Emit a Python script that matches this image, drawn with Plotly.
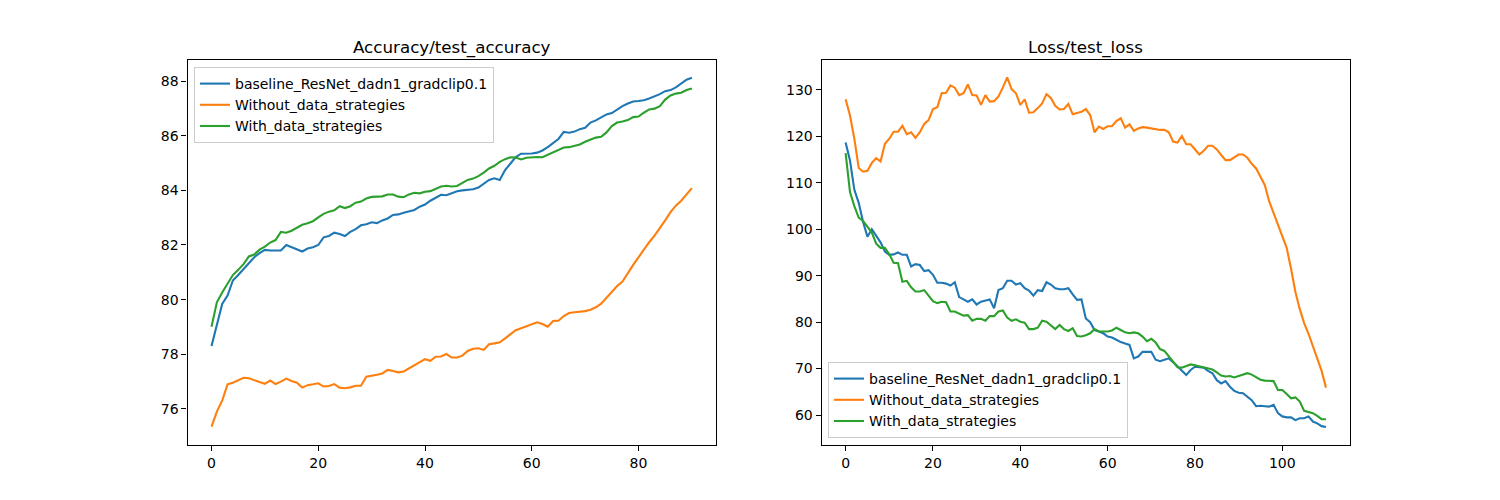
import plotly.graph_objects as go

# left panel: test accuracy, epochs 0..90
acc_epochs = list(range(91))
acc_baseline = [
    78.30, 79.05, 79.84, 80.15, 80.70, 80.90, 81.12, 81.35, 81.55, 81.70,
    81.82, 81.80, 81.79, 81.80, 82.00, 81.92, 81.84, 81.76, 81.87, 81.92,
    82.00, 82.28, 82.33, 82.45, 82.40, 82.33, 82.48, 82.58, 82.72, 82.76,
    82.83, 82.80, 82.90, 82.97, 83.10, 83.12, 83.18, 83.24, 83.28, 83.40,
    83.48, 83.62, 83.72, 83.84, 83.82, 83.90, 83.97, 84.00, 84.02, 84.04,
    84.10, 84.25, 84.38, 84.44, 84.38, 84.74, 84.98, 85.22, 85.34, 85.34,
    85.35, 85.38, 85.46, 85.58, 85.72, 85.88, 86.14, 86.11, 86.15, 86.24,
    86.29, 86.48, 86.56, 86.66, 86.78, 86.83, 86.96, 87.08, 87.18, 87.25,
    87.27, 87.30, 87.36, 87.43, 87.52, 87.63, 87.67, 87.77, 87.91, 88.05,
    88.12,
]
acc_without = [
    75.35, 75.90, 76.30, 76.90, 76.96, 77.06, 77.14, 77.12, 77.06, 77.00,
    76.92, 77.04, 76.91, 77.00, 77.11, 77.02, 76.96, 76.78, 76.87, 76.90,
    76.94, 76.82, 76.84, 76.91, 76.78, 76.76, 76.79, 76.85, 76.85, 77.18,
    77.21, 77.25, 77.30, 77.43, 77.39, 77.34, 77.37, 77.49, 77.60, 77.72,
    77.82, 77.76, 77.91, 77.92, 78.01, 77.88, 77.88, 77.95, 78.12, 78.20,
    78.22, 78.16, 78.37, 78.40, 78.44, 78.58, 78.74, 78.88, 78.95, 79.02,
    79.08, 79.17, 79.11, 79.01, 79.22, 79.23, 79.40, 79.51, 79.54, 79.55,
    79.58, 79.63, 79.72, 79.85, 80.07, 80.28, 80.50, 80.66, 80.98, 81.27,
    81.55, 81.84, 82.10, 82.34, 82.60, 82.90, 83.20, 83.44, 83.62, 83.83,
    84.08,
]
acc_with = [
    79.01, 79.90, 80.26, 80.58, 80.90, 81.09, 81.30, 81.58, 81.65, 81.83,
    81.94, 82.09, 82.18, 82.48, 82.45, 82.52, 82.63, 82.74, 82.80, 82.87,
    83.01, 83.14, 83.22, 83.27, 83.42, 83.35, 83.42, 83.55, 83.59, 83.70,
    83.76, 83.77, 83.78, 83.85, 83.85, 83.77, 83.75, 83.85, 83.91, 83.89,
    83.95, 83.97, 84.07, 84.14, 84.17, 84.14, 84.16, 84.26, 84.38, 84.43,
    84.52, 84.65, 84.80, 84.90, 85.04, 85.14, 85.21, 85.20, 85.13, 85.19,
    85.21, 85.22, 85.21, 85.30, 85.38, 85.50, 85.57, 85.58, 85.62, 85.68,
    85.78, 85.86, 85.93, 85.96, 86.12, 86.35, 86.48, 86.52, 86.57, 86.68,
    86.70, 86.84, 86.96, 86.99, 87.08, 87.32, 87.47, 87.54, 87.57, 87.67,
    87.73,
]

# right panel: test loss, epochs 0..110
loss_epochs = list(range(111))
loss_baseline = [
    118.7, 114.8, 108.5, 105.7, 101.6, 98.4, 100.0, 98.7, 97.2, 95.2,
    94.5, 94.6, 95.0, 94.5, 94.5, 92.0, 92.5, 92.3, 91.0, 91.2,
    90.2, 88.5, 88.5, 88.3, 87.9, 88.6, 85.4, 84.9, 84.4, 84.9,
    83.8, 84.4, 84.6, 84.9, 83.0, 86.9, 87.3, 88.9, 88.9, 88.1,
    88.4, 87.3, 86.8, 85.7, 86.9, 86.7, 88.6, 88.1, 87.3, 87.1,
    87.1, 87.3, 86.0, 84.8, 84.9, 80.8, 80.0, 78.3, 78.0, 77.6,
    76.9, 76.7, 76.2, 75.7, 75.4, 75.1, 72.2, 72.6, 73.6, 73.6,
    73.6, 71.9, 71.6, 71.9, 72.2, 71.4, 70.4, 69.6, 68.6, 69.7,
    70.4, 70.3, 70.2, 69.5, 69.0, 67.5, 66.8, 67.3, 66.1, 65.2,
    64.8, 64.7, 64.0, 63.2, 61.9, 62.0, 61.9, 61.8, 62.2, 60.4,
    59.7, 59.5, 59.5, 58.9, 59.3, 59.3, 59.7, 58.6, 58.2, 57.6,
    57.4,
]
loss_without = [
    128.0, 124.5, 119.5, 113.2, 112.4, 112.6, 114.3, 115.3, 114.6, 118.4,
    119.5, 121.0, 121.0, 122.3, 120.5, 120.9, 119.7, 120.9, 122.7, 123.5,
    125.9, 126.3, 129.3, 129.4, 131.0, 130.5, 128.9, 129.3, 131.2, 128.9,
    128.8, 126.8, 128.9, 127.5, 127.6, 128.6, 130.5, 132.7, 130.2, 129.3,
    126.8, 128.0, 125.1, 125.2, 126.1, 127.1, 129.1, 128.3, 126.6, 125.8,
    125.9, 127.0, 124.8, 125.1, 125.3, 125.9, 124.6, 120.9, 122.1, 121.6,
    122.2, 122.2, 123.3, 123.9, 121.9, 122.6, 121.2, 121.7, 122.0, 121.9,
    121.7, 121.5, 121.4, 121.4, 120.9, 118.9, 118.7, 120.1, 118.3, 118.3,
    117.2, 116.1, 116.9, 118.0, 118.0, 117.2, 116.0, 114.9, 114.9, 115.5,
    116.1, 116.1, 115.4, 114.1, 113.1, 111.3, 109.5, 106.0, 103.6, 100.9,
    98.4, 96.0, 91.5, 86.5, 82.8, 79.8, 77.5, 74.8, 72.4, 69.5,
    65.9,
]
loss_with = [
    116.4, 108.0, 105.0, 102.5, 101.8, 100.5, 99.3, 96.9, 96.0, 96.0,
    94.6, 92.8, 92.7, 88.7, 88.9, 87.5, 86.6, 86.6, 86.9, 85.7,
    84.5, 84.1, 84.4, 84.3, 82.3, 82.3, 81.8, 81.4, 81.5, 80.3,
    80.7, 80.7, 80.3, 81.3, 81.3, 82.3, 82.5, 81.0, 80.3, 80.6,
    80.1, 79.9, 78.5, 78.5, 78.8, 80.3, 80.1, 79.2, 78.5, 79.4,
    78.5, 78.1, 78.7, 77.0, 76.9, 77.2, 77.6, 78.5, 78.0, 78.0,
    78.0, 78.2, 78.8, 78.3, 77.8, 77.6, 77.8, 77.6, 76.9, 75.9,
    76.4, 75.6, 74.2, 73.8, 72.7, 71.5, 70.3, 70.2, 70.6, 70.9,
    70.7, 70.5, 70.3, 70.0, 69.8, 69.2, 68.5, 68.3, 68.4, 68.1,
    68.4, 68.8, 69.0, 68.7, 68.2, 67.6, 67.4, 67.3, 67.3, 65.4,
    65.4, 64.5, 63.6, 63.8, 62.9, 60.9, 60.6, 60.4, 59.8, 59.1,
    59.1,
]

names = ["baseline_ResNet_dadn1_gradclip0.1", "Without_data_strategies", "With_data_strategies"]
colors = ["#1f77b4", "#ff7f0e", "#2ca02c"]
titles = ["Accuracy/test_accuracy", "Loss/test_loss"]

font = "DejaVu Sans, Liberation Sans, sans-serif"

# page body has an 8px margin, so place axes relative to that offset
W, H, OFF = 1500, 500, 8
def px_x(p):
    return (p - OFF) / W
def px_y(p):
    return 1 - (p - OFF) / H

left_dom = [px_x(187.5), px_x(715.9)]
right_dom = [px_x(821.6), px_x(1350.0)]
y_dom = [px_y(445), px_y(60)]

fig = go.Figure()

for name, color, ys in zip(names, colors, [acc_baseline, acc_without, acc_with]):
    fig.add_trace(go.Scatter(
        x=acc_epochs, y=ys, mode="lines", name=name,
        line=dict(color=color, width=2.1),
        xaxis="x", yaxis="y", legend="legend",
    ))

for name, color, ys in zip(names, colors, [loss_baseline, loss_without, loss_with]):
    fig.add_trace(go.Scatter(
        x=loss_epochs, y=ys, mode="lines", name=name,
        line=dict(color=color, width=2.1),
        xaxis="x2", yaxis="y2", legend="legend2",
    ))

axis_style = dict(
    showline=True, mirror=True, linecolor="black", linewidth=1.1,
    ticks="outside", ticklen=5, tickwidth=1.1, tickcolor="black",
    showgrid=False, zeroline=False,
    tickfont=dict(family=font, size=14, color="black"),
)

legend_style = dict(
    bgcolor="rgba(255,255,255,0.8)", bordercolor="#cccccc", borderwidth=1,
    font=dict(family=font, size=14, color="black"),
    xanchor="left", tracegroupgap=0,
)

fig.update_layout(
    width=W, height=H, autosize=False,
    margin=dict(l=0, r=0, t=0, b=0),
    paper_bgcolor="white", plot_bgcolor="white",
    font=dict(family=font, size=14, color="black"),
    xaxis=dict(domain=left_dom, range=[-4.5, 94.5], dtick=20, anchor="y", **axis_style),
    yaxis=dict(domain=y_dom, range=[74.68, 88.77], dtick=2, anchor="x", **axis_style),
    xaxis2=dict(domain=right_dom, range=[-5.5, 115.5], dtick=20, anchor="y2", **axis_style),
    yaxis2=dict(domain=y_dom, range=[53.54, 136.46], dtick=10, anchor="x2", **axis_style),
    legend=dict(x=px_x(194), y=px_y(67), yanchor="top", **legend_style),
    legend2=dict(x=px_x(828), y=px_y(438), yanchor="bottom", **legend_style),
    annotations=[
        dict(text=titles[0], x=sum(left_dom) / 2, y=y_dom[1], xref="paper", yref="paper",
             xanchor="center", yanchor="bottom", yshift=0, showarrow=False,
             font=dict(family=font, size=16.7, color="black")),
        dict(text=titles[1], x=sum(right_dom) / 2, y=y_dom[1], xref="paper", yref="paper",
             xanchor="center", yanchor="bottom", yshift=0, showarrow=False,
             font=dict(family=font, size=16.7, color="black")),
    ],
)

fig.write_html("out.html")
